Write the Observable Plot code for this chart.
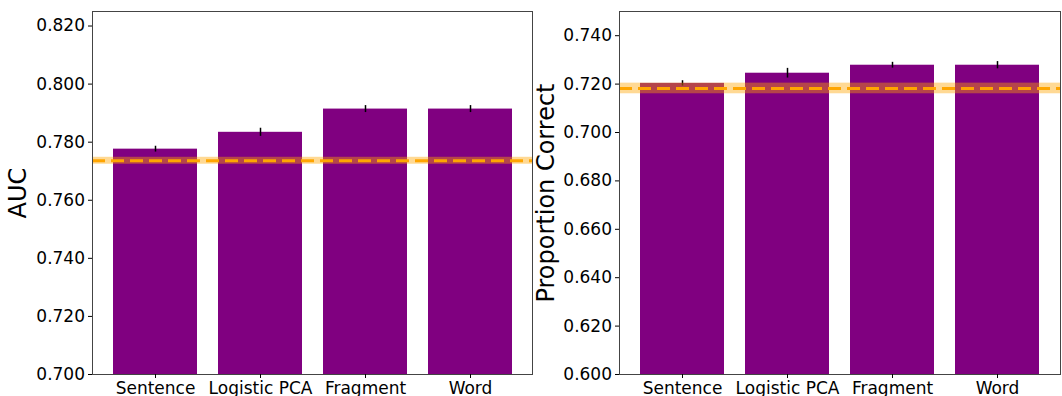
<!DOCTYPE html>
<html>
<head>
<meta charset="utf-8">
<script src="https://cdn.jsdelivr.net/npm/d3@7"></script>
<script src="https://cdn.jsdelivr.net/npm/@observablehq/plot@0.6"></script>
<style>
  html, body { margin: 0; padding: 0; background: white; }
  #wrap { display: flex; flex-direction: row; width: 1062px; height: 396px; overflow: hidden; }
  #wrap svg { overflow: visible; }
</style>
</head>
<body>
<div id="wrap"></div>
<script>
const categories = ["Sentence", "Logistic PCA", "Fragment", "Word"];

const aucValues = [0.7776, 0.7834, 0.7914, 0.7914];
const aucErrors = [0.0010, 0.0014, 0.0012, 0.0012];
const aucBaseline = 0.7736;
const aucBaselineErr = 0.0012;
const aucTicks = [0.70, 0.72, 0.74, 0.76, 0.78, 0.80, 0.82];
const aucDomain = [0.70, 0.825];

const pcValues = [0.7203, 0.7245, 0.7278, 0.7278];
const pcErrors = [0.0011, 0.0020, 0.0012, 0.0015];
const pcBaseline = 0.7182;
const pcBaselineErr = 0.0022;
const pcTicks = [0.60, 0.62, 0.64, 0.66, 0.68, 0.70, 0.72, 0.74];
const pcDomain = [0.60, 0.75];

function panel({values, errors, baseline, baselineErr, ticks, domain, label, width, marginLeft, marginRight, labelDx}) {
  const rows = categories.map((c, i) => ({cat: c, v: values[i], e: errors[i]}));
  return Plot.plot({
    width, height: 396,
    marginLeft, marginRight, marginTop: 11, marginBottom: 22,
    style: {fontFamily: "DejaVu Sans", fontSize: "17px", color: "black", background: "white", overflow: "visible"},
    x: {domain: categories, paddingInner: 0.2, paddingOuter: 0.19, label: null},
    y: {domain, label: null},
    marks: [
      Plot.barY(rows, {x: "cat", y1: () => domain[0], y2: "v", fill: "#800080", clip: true}),
      Plot.ruleX(rows, {x: "cat", y1: d => d.v - d.e, y2: d => d.v + d.e, stroke: "black", strokeWidth: 1.5}),
      Plot.rect([{y1: baseline - baselineErr, y2: baseline + baselineErr}], {y1: "y1", y2: "y2", fill: "#ffa500", fillOpacity: 0.42}),
      Plot.ruleY([baseline], {stroke: "#ffa500", strokeWidth: 3, strokeDasharray: "13,6"}),
      Plot.frame({stroke: "#444", strokeWidth: 1}),
      Plot.axisY({ticks, tickFormat: ".3f", tickSize: 4, tickPadding: 3.5, fontSize: 17, label: null}),
      Plot.axisX({tickSize: 4, tickPadding: 3, fontSize: 17, label: null}),
      Plot.text([label], {text: d => d, frameAnchor: "left", textAnchor: "middle", lineAnchor: "middle", rotate: -90, dx: labelDx, fontSize: 24, fill: "black"})
    ]
  });
}

const wrap = document.getElementById("wrap");
wrap.appendChild(panel({
  values: aucValues, errors: aucErrors, baseline: aucBaseline, baselineErr: aucBaselineErr,
  ticks: aucTicks, domain: aucDomain, label: "AUC",
  width: 534, marginLeft: 92, marginRight: 2, labelDx: -74.5
}));
wrap.appendChild(panel({
  values: pcValues, errors: pcErrors, baseline: pcBaseline, baselineErr: pcBaselineErr,
  ticks: pcTicks, domain: pcDomain, label: "Proportion Correct",
  width: 528, marginLeft: 85, marginRight: 2, labelDx: -73
}));
</script>
</body>
</html>
